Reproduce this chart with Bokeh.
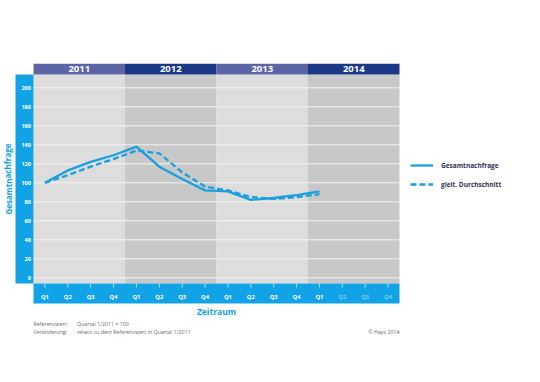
from bokeh.plotting import figure
from bokeh.models import Range1d, Legend, LegendItem
from bokeh.core.properties import value
from bokeh.embed import file_html
from bokeh.resources import INLINE

# ---------------- data ----------------
years = ["2011", "2012", "2013", "2014"]
quarter_labels = ["Q1", "Q2", "Q3", "Q4"] * 4
y_ticks = [0, 20, 40, 60, 80, 100, 120, 140, 160, 180, 200]
gesamtnachfrage = [100, 113, 122, 129, 138, 117, 104, 92, 91, 82, 84, 87, 91]
gleit_durchschnitt = [100, 108, 117, 125, 134, 131, 111, 96, 92, 85, 83, 85, 88]

# ---------------- layout helpers (reference pixel -> data units) ----------------
W, H = 524, 366
OX, OY = 0, 0
X0 = 33.0       # left edge of plot area (px)
QW = 22.875     # px per quarter
Y0 = 277.3      # px of value 0
PPU = 0.95      # px per value unit


def dx(px):
    return (px - X0) / QW


def dy(py):
    return (Y0 - py) / PPU


FONT = value("Open Sans")
BLUE = "#12a3e6"
LINE = "#1a9fe0"

p = figure(width=W, height=H,
           x_range=Range1d(dx(OX), dx(OX + W)),
           y_range=Range1d(dy(OY + H), dy(OY)),
           x_axis_location=None, y_axis_location=None,
           output_backend="svg", toolbar_location=None, min_border=0)
p.grid.visible = False
p.outline_line_color = None
p.background_fill_color = "white"
p.border_fill_color = "white"

n_years = len(years)
lefts = [4 * k for k in range(n_years)]
rights = [4 * k + 4 for k in range(n_years)]
col_colors = ["#dddddd" if k % 2 == 0 else "#c8c8c8" for k in range(n_years)]
head_colors = ["#5b64a4" if k % 2 == 0 else "#1b3887" for k in range(n_years)]
n_q = len(quarter_labels)

# column backgrounds
p.quad(left=lefts, right=rights, bottom=dy(283), top=dy(74), fill_color=col_colors, line_color=None)
# year header
p.quad(left=lefts, right=rights, bottom=dy(74), top=dy(63.3), fill_color=head_colors, line_color=None)
p.text(x=[l + 2 for l in lefts], y=[dy(68.8)] * n_years, text=years, text_color="white",
       text_font=FONT, text_font_style="bold", text_font_size="9.5px",
       text_align="center", text_baseline="middle")

# gridlines
p.segment(x0=[0] * len(y_ticks), x1=[n_q] * len(y_ticks), y0=y_ticks, y1=y_ticks,
          line_color="#f4f4f4", line_width=1)

# left axis band
p.quad(left=dx(15), right=0, bottom=dy(283), top=dy(74), fill_color=BLUE, line_color=None)
p.text(x=[dx(30.5)] * len(y_ticks), y=y_ticks, text=[str(t) for t in y_ticks],
       text_color="white", text_font=FONT, text_font_style="bold", text_font_size="5.6px",
       text_align="right", text_baseline="middle")

# bottom axis band
p.quad(left=0, right=n_q, bottom=dy(303), top=dy(283), fill_color=BLUE, line_color=None)
q_centers = [i + 0.5 for i in range(n_q)]
n_data = len(gesamtnachfrage)
q_colors = ["white" if i < n_data else "#7ccdf3" for i in range(n_q)]
p.segment(x0=q_centers, x1=q_centers, y0=[dy(283)] * n_q, y1=[dy(287)] * n_q,
          line_color="#a8dcf5", line_width=1)
p.text(x=q_centers, y=[dy(296.5)] * n_q, text=quarter_labels, text_color=q_colors,
       text_font=FONT, text_font_style="bold", text_font_size="5.8px",
       text_align="center", text_baseline="middle")

# series
xs = [i + 0.5 for i in range(n_data)]
r1 = p.line(xs, gesamtnachfrage, line_color=LINE, line_width=2.3, line_join="round")
r2 = p.line(xs, gleit_durchschnitt, line_color=LINE, line_width=2.3, line_dash="6 3")

legend = Legend(items=[LegendItem(label="Gesamtnachfrage", renderers=[r1]),
                       LegendItem(label="gleit. Durchschnitt", renderers=[r2])],
                location=(410, H - 175 - 14), orientation="vertical",
                glyph_width=23, glyph_height=10, label_height=10, spacing=9,
                label_standoff=8, padding=0, margin=0,
                border_line_color=None, background_fill_alpha=0,
                label_text_font="Open Sans", label_text_font_size="6.5px",
                label_text_font_style="bold", label_text_color="#2b3259")
p.add_layout(legend)

# axis titles
p.text(x=[dx(7.5)], y=[dy(178.5)], text=["Gesamtnachfrage"], angle=1.5708,
       text_color=BLUE, text_font=FONT, text_font_style="bold", text_font_size="8px",
       text_align="center", text_baseline="middle")
p.text(x=[n_q / 2], y=[dy(311)], text=["Zeitraum"], text_color=BLUE,
       text_font=FONT, text_font_style="bold", text_font_size="8.5px",
       text_align="center", text_baseline="middle")

# footnotes
NOTE = "#6a6a6a"
p.text(x=[0, 0], y=[dy(323.4), dy(331.3)], text=["Referenzwert:", "Veränderung:"],
       text_color=NOTE, text_font=FONT, text_font_size="5.3px",
       text_align="left", text_baseline="middle")
p.text(x=[dx(76.4), dx(76.4)], y=[dy(323.4), dy(331.3)],
       text=["Quartal 1/2011 = 100", "relativ zu dem Referenzwert in Quartal 1/2011"],
       text_color=NOTE, text_font=FONT, text_font_size="5.3px",
       text_align="left", text_baseline="middle")
p.text(x=[n_q], y=[dy(331.3)], text=["© Hays 2014"], text_color=NOTE,
       text_font=FONT, text_font_size="5.3px", text_align="right", text_baseline="middle")

open("out.html", "w").write(file_html(p, INLINE))
